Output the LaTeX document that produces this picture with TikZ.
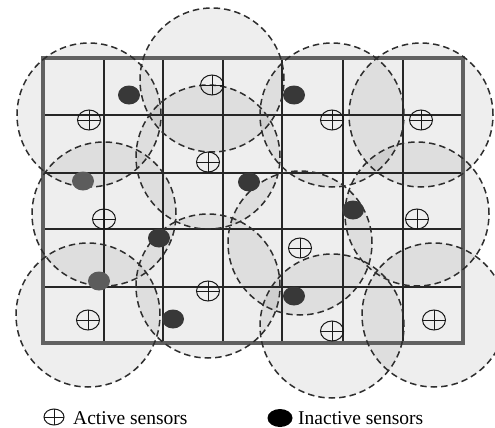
\documentclass[tikz,border=0pt]{standalone}
\usepackage{fontspec}
\setmainfont{Liberation Serif}
\usetikzlibrary{shapes.geometric}
\begin{document}
\begin{tikzpicture}[x=1pt,y=-1pt,
  zone/.style={fill=black,fill opacity=0.065,draw=none},
  zoneedge/.style={draw=black!82,line width=1.5pt,dash pattern=on 6.5pt off 4pt},
  gridline/.style={draw=black!85,line width=1.1pt},
  frame/.style={draw=black!62,line width=3.6pt},
  active/.style={ellipse,draw=black!90,line width=1pt,inner sep=0pt,
    minimum width=23pt,minimum height=20pt,
    path picture={
      \draw[black!90,line width=1pt] (path picture bounding box.north) -- (path picture bounding box.south);
      \draw[black!90,line width=1pt] (path picture bounding box.west) -- (path picture bounding box.east);}},
  inactive/.style={ellipse,fill=#1,draw=none,inner sep=0pt,
    minimum width=22pt,minimum height=19pt},
  inactive/.default=black!78,
  legendtext/.style={anchor=base west,inner sep=0pt,font=\fontsize{19.5}{22}\selectfont}
]
\useasboundingbox (0,0) rectangle (495,428);

% coverage zones (centres of the sensing disks)
\foreach \n/\x/\y in {1/89/115, 2/212/80, 3/208/157, 4/332/115, 5/421/115, 6/104/214,
                     7/417/214, 8/300/243, 9/208/286, 10/88/315, 11/332/326, 12/434/315}
  \coordinate (z\n) at (\x,\y);

\foreach \n in {1,...,12}
  \fill[zone] (z\n) circle[radius=72pt];

% monitoring grid
\foreach \x in {104,163,223,282,343,403}
  \draw[gridline] (\x,58) -- (\x,343);
\foreach \y in {115,173,229,287}
  \draw[gridline] (43,\y) -- (463,\y);
\draw[frame] (43,58) rectangle (463,343);

% sensing disk boundaries
\foreach \n in {1,...,12}
  \draw[zoneedge] (z\n) circle[radius=72pt];

% inactive sensors
\node[inactive] (s1) at (129,95) {};
\node[inactive] (s2) at (294,95) {};
\node[inactive=black!64] (s3) at (83,181) {};
\node[inactive] (s4) at (249,182) {};
\node[inactive] (s5) at (353,210) {};
\node[inactive] (s6) at (159,238) {};
\node[inactive=black!64] (s7) at (99,281) {};
\node[inactive] (s8) at (294,296) {};
\node[inactive] (s9) at (173,319) {};

% active sensors
\node[active] (a1) at (89,120) {};
\node[active] (a2) at (212,85) {};
\node[active] (a3) at (208,162) {};
\node[active] (a4) at (332,120) {};
\node[active] (a5) at (421,120) {};
\node[active] (a6) at (104,219) {};
\node[active] (a7) at (417,219) {};
\node[active] (a8) at (300,248) {};
\node[active] (a9) at (208,291) {};
\node[active] (a10) at (88,320) {};
\node[active] (a11) at (332,331) {};
\node[active] (a12) at (434,320) {};

% legend
\node[active,minimum width=20pt,minimum height=16pt] (ka) at (54,417) {};
\node[legendtext] (ta) at (73,424) {Active sensors};
\node[inactive=black,minimum width=25pt,minimum height=18pt] (ki) at (280,418) {};
\node[legendtext] (ti) at (298,424) {Inactive sensors};
\end{tikzpicture}
\end{document}
